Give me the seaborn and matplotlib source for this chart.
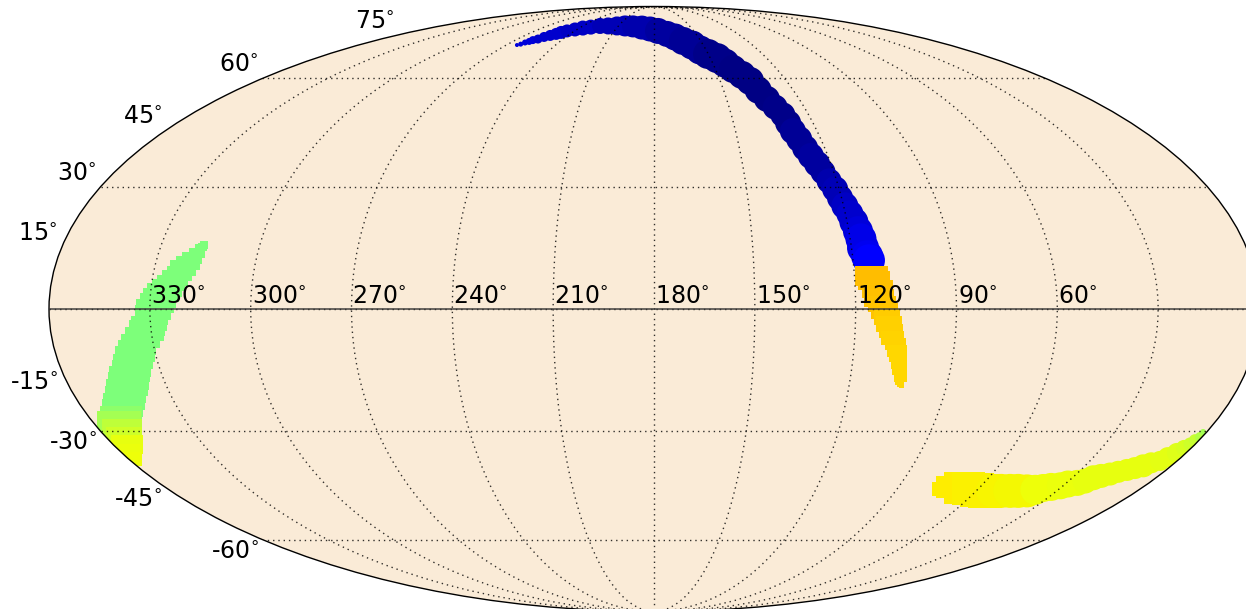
# -*- coding:utf-8 -*-
import numpy as np
import pandas as pd
import matplotlib.pyplot as plt
import seaborn as sns
from matplotlib.ticker import NullFormatter

# stream footprint: ra, dec in degrees, value on the jet scale, band width
blue_ra = [263.5,262.1,261.1,259.6,258.7,256.5,254.8,252.4,250.0,248.2,245.7,241.5,237.1,231.8,225.5,218.7,211.2,204.4,197.5,189.8,183.1,177.0,170.7,165.7,161.4,156.8,153.5,150.1,146.4,143.7,141.4,138.7,136.5,135.1,133.3,131.6,130.0,129.4,128.9,127.8,126.9,125.9,124.7,123.6,122.5,121.3,120.5,119.6,118.6,117.9,117.2,116.7,116.5,115.6,115.2]
blue_dec = [71.2,71.5,72.1,72.5,73.0,73.4,74.2,74.8,75.4,76.0,76.6,77.2,77.8,78.2,78.7,78.7,78.7,78.7,78.5,78.0,77.4,76.6,75.4,74.2,72.7,71.2,69.4,68.0,66.6,64.9,63.0,61.1,59.2,56.4,53.8,51.4,49.2,46.9,44.7,42.5,40.1,38.0,35.9,33.8,31.5,29.4,27.2,25.2,23.2,21.2,18.9,17.0,14.8,12.8,11.8]
blue_val = [.08,.08,.08,.08,.08,.07,.07,.07,.07,.07,.06,.06,.06,.06,.05,.05,.05,.05,.04,.04,.04,.03,.03,.03,.02,.02,.02,.01,.01,.01,.005,.005,.005,.005,.005,.01,.01,.01,.02,.02,.02,.03,.03,.03,.04,.05,.05,.06,.07,.07,.08,.09,.09,.10,.11]
blue_w = [4,5,6,7,8,9,10,11,12,13,13,14,15,15,16,17,19,21,22,24,25,26,26,27,28,29,29,30,30,29,28,28,28,27,26,25,25,26,26,26,26,26,26,25,25,26,26,27,27,29,30,31,32,32,32]

gold_ra = [114.8,114.3,113.5,113.0,112.2,111.3,110.7,110.0,109.3,108.6,107.8,107.0,106.5,105.9,105.5,104.8,104.6,104.1,103.9]
gold_dec = [7.9,6.8,4.8,2.7,1.2,-0.5,-1.9,-3.6,-5.3,-7.0,-8.5,-10.1,-11.6,-13.3,-15.0,-16.7,-17.7,-18.4,-18.9]
gold_val = [.71,.71,.705,.705,.70,.70,.695,.69,.69,.685,.685,.68,.68,.68,.68,.68,.68,.68,.68]
gold_w = [33,32,31,30,28,27,26,26,24,23,21,20,18,16,15,13,9,7,5]

green_ra = [317.2,317.2,317.6,318.4,319.5,320.3,321.4,322.3,323.3,324.2,325.2,326.3,327.1,327.9,328.8,329.4,329.8,330.8,331.5,333.0,334.3,335.6,336.8,338.0,339.0,340.4,341.5,343.2,344.7,346.6,348.1,350.0,352.1,353.0,354.3,355.5,356.6,357.4,358.4]
green_dec = [16.0,15.3,14.8,13.6,12.3,11.1,9.9,8.7,7.5,6.3,5.1,3.9,2.7,1.4,0.0,-1.4,-2.9,-4.1,-5.3,-7.0,-8.5,-10.1,-11.8,-13.6,-15.0,-16.7,-18.2,-19.9,-21.7,-23.4,-24.9,-26.7,-28.2,-29.9,-31.7,-33.5,-35.1,-36.7,-38.2]
green_val = [.5]*31 + [.52,.55,.58,.60,.63,.635,.64,.64]
green_w = [8,10,12,16,20,24,26,25,26,28,30,32,33,34,35,33,32,34,35,35,35,37,38,38,38,40,40,40,40,40,40,42,44,40,36,32,23,16,9]

# the blunt left end of the yellow band
head_ra = [75.6,74.5,72.2,67.1,63.8,60.1,56.7]
head_dec = [-45.2,-45.2,-44.7,-45.0,-45.2,-45.5,-45.8]
head_val = [.66,.66,.66,.66,.655,.655,.655]
head_w = [8,14,22,32,33,34,34]

yellow_ra = [53.7,50.7,47.4,44.4,41.1,38.5,36.4,33.9,31.0,29.0,26.1,24.1,22.5,20.5,18.1,16.1,13.8,11.8,9.8,8.2,5.9,4.7,3.1,2.5,1.8,1.4,0.7,1.2]
yellow_dec = [-45.8,-45.8,-45.8,-45.8,-45.8,-45.5,-45.0,-44.7,-44.4,-43.9,-43.6,-43.1,-42.2,-41.7,-41.2,-40.6,-40.1,-39.6,-39.0,-38.2,-37.7,-36.7,-35.6,-34.3,-33.3,-32.3,-31.5,-30.2]
yellow_val = [.65,.65,.645,.645,.645,.64,.64,.64,.635,.635,.635,.63,.63,.63,.63,.63,.63,.63,.63,.63,.625,.625,.62,.61,.60,.59,.57,.55]
yellow_w = [34,34,34,34,33,30,28,28,27,27,26,25,25,24,23,22,22,22,23,21,20,20,20,16,13,12,10,6]

ra_labels = [330,300,270,240,210,180,150,120,90,60]
dec_labels = [75,60,45,30,15,-15,-30,-45,-60]

sns.set_theme(style='white', rc={'font.family': 'DejaVu Sans', 'mathtext.fontset': 'dejavusans'})

W, H = 1246, 609
fig = plt.figure(figsize=(W/100, H/100), dpi=100)
ax = fig.add_axes([49/W, (H-611.5)/H, 1210/W, 605/H], projection='mollweide', facecolor='#faebd7')
ax.set_longitude_grid(30)
ax.set_latitude_grid(30)
ax.set_longitude_grid_ends(90)
ax.xaxis.set_major_formatter(NullFormatter())
ax.yaxis.set_major_formatter(NullFormatter())
ax.set_axisbelow(False)
ax.grid(True, color='black', linestyle=(0, (1, 2.8)), linewidth=1.0, alpha=0.8)
ax.spines['geo'].set_edgecolor('black')
ax.spines['geo'].set_linewidth(1.0)


def to_table(ra, dec, val, w):
    df = pd.DataFrame({'ra': ra, 'dec': dec, 'val': val, 'w': w})
    # ra runs backwards across the map, 180 in the middle
    df['x'] = np.radians(180 - df['ra'])
    df['y'] = np.radians(df['dec'])
    df['s'] = (df['w'] * 0.72) ** 2
    return df


# flat bars for the steep bands, they keep the sharp cut at the blue/gold edge
bar = [(-0.5, -0.3), (0.5, -0.3), (0.5, 0.3), (-0.5, 0.3), (-0.5, -0.3)]
jet = plt.get_cmap('jet')  # seaborn refuses the name 'jet', the object is fine
bands = [
    (to_table(blue_ra, blue_dec, blue_val, blue_w), 'o'),
    (to_table(gold_ra, gold_dec, gold_val, gold_w), bar),
    (to_table(green_ra, green_dec, green_val, green_w), bar),
    (to_table(head_ra, head_dec, head_val, head_w), 's'),
    (to_table(yellow_ra, yellow_dec, yellow_val, yellow_w), 'o'),
]
for df, mark in bands:
    sns.scatterplot(data=df, x='x', y='y', hue='val', palette=jet, hue_norm=(0, 1),
                    s=df['s'].values, marker=mark, linewidth=0, legend=False, ax=ax, zorder=1.5)
ax.set_xlabel('')
ax.set_ylabel('')

ax.plot([-np.pi, np.pi], [0, 0], color='#333333', linewidth=1.2, alpha=0.85, zorder=4)

for ra in ra_labels:
    ax.annotate(f'{ra}$\\!^\\circ$', (np.radians(180 - ra), 0), xytext=(1, 5), textcoords='offset pixels',
                ha='left', va='baseline', fontsize=17, color='black', zorder=5)
for dec in dec_labels:
    off = 6 if dec > 0 else -19
    ax.annotate(f'{dec}$\\!^\\circ$', (-np.pi, np.radians(dec)), xytext=(-4, off), textcoords='offset pixels',
                ha='right', va='baseline', fontsize=17, color='black', annotation_clip=False)

fig.savefig('out.png', dpi=100)
